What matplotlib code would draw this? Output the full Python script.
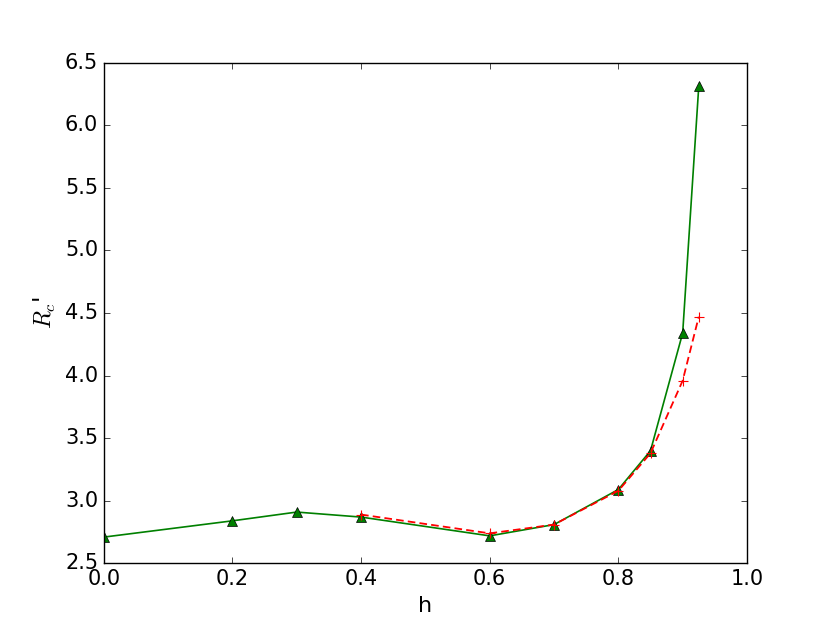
import matplotlib
matplotlib.use('Agg')
import matplotlib.pyplot as plt

# green curve (triangles, solid)
h_full = [0.0, 0.2, 0.3, 0.4, 0.6, 0.7, 0.8, 0.85, 0.9, 0.925]
rc_full = [2.71, 2.84, 2.91, 2.87, 2.72, 2.81, 3.09, 3.40, 4.34, 6.31]

# red curve (plus, dashed)
h_part = [0.4, 0.6, 0.7, 0.8, 0.85, 0.9, 0.925]
rc_part = [2.89, 2.74, 2.81, 3.08, 3.38, 3.96, 4.47]

plt.style.use('classic')
plt.rcParams['figure.facecolor'] = 'white'
plt.rcParams['savefig.facecolor'] = 'white'

fig = plt.figure(figsize=(8.3, 6.26), dpi=100)
ax = fig.add_subplot(111)

ax.plot(h_full, rc_full, 'g-^', markersize=7, linewidth=1.2)
ax.plot(h_part, rc_part, 'r--+', markersize=7, markeredgecolor='r',
        markeredgewidth=0.8, linewidth=1.3, dashes=(5.5, 3))

ax.set_xlim(0.0, 1.0)
ax.set_ylim(2.5, 6.5)
ax.tick_params(labelsize=15)
ax.set_xlabel('h', fontsize=16)
ax.set_ylabel("$R_c$'", fontsize=17)

fig.savefig('out.png', dpi=100)
